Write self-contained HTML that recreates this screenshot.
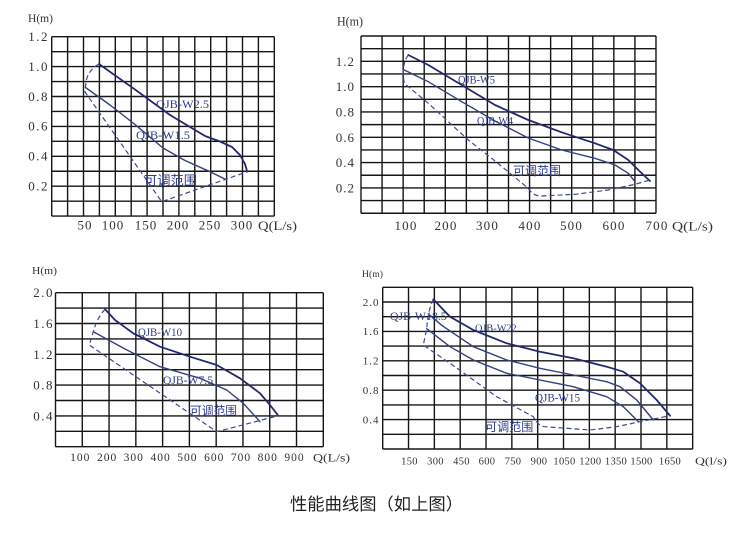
<!DOCTYPE html>
<html><head><meta charset="utf-8"><style>
html,body{margin:0;padding:0;background:#fff;}
svg{display:block;}
.g{stroke:#161616;stroke-width:1.4;fill:none;}
.t{font-family:"Liberation Serif","DejaVu Serif",serif;fill:#333;}
.c1{stroke:#23286e;stroke-width:1.8;fill:none;stroke-linejoin:round;stroke-linecap:round;}
.c2{stroke:#33407f;stroke-width:1.4;fill:none;stroke-linejoin:round;stroke-linecap:round;}
.d{stroke:#3d4b90;stroke-width:1.2;fill:none;stroke-dasharray:5 3;}
.l{font-family:"Liberation Serif",serif;fill:#2b3a8f;}
.k{font-family:"Liberation Sans","Noto Sans CJK SC",sans-serif;fill:#2b3a8f;}
</style></head><body>
<svg width="750" height="536" viewBox="0 0 750 536" xmlns="http://www.w3.org/2000/svg">
<rect width="750" height="536" fill="#fff"/>

<!-- Chart 1 -->
<path class="g" d="M51.7 36.7V216.1M67.6 36.7V216.1M83.5 36.7V216.1M99.4 36.7V216.1M115.3 36.7V216.1M131.2 36.7V216.1M147.1 36.7V216.1M163 36.7V216.1M178.9 36.7V216.1M194.8 36.7V216.1M210.7 36.7V216.1M226.6 36.7V216.1M242.5 36.7V216.1M258.4 36.7V216.1M274.3 36.7V216.1
M51.7 36.7H274.3M51.7 51.65H274.3M51.7 66.6H274.3M51.7 81.55H274.3M51.7 96.5H274.3M51.7 111.45H274.3M51.7 126.4H274.3M51.7 141.35H274.3M51.7 156.3H274.3M51.7 171.25H274.3M51.7 186.2H274.3M51.7 201.15H274.3M51.7 216.1H274.3"/>
<g class="t" font-size="13" letter-spacing="1.5" text-anchor="end">
<text x="49" y="41">1.2</text><text x="49" y="70.9">1.0</text><text x="49" y="100.8">0.8</text><text x="49" y="130.7">0.6</text><text x="49" y="160.6">0.4</text><text x="49" y="190.5">0.2</text>
</g>
<g class="t" font-size="13" letter-spacing="1" text-anchor="middle">
<text x="85" y="229.5">50</text><text x="113" y="229.5">100</text><text x="146" y="229.5">150</text><text x="178" y="229.5">200</text><text x="210" y="229.5">250</text><text x="242" y="229.5">300</text>
</g>
<text class="t" font-size="12.5" x="258" y="230" textLength="39" lengthAdjust="spacingAndGlyphs">Q(L/s)</text>
<text class="t" font-size="12" x="28" y="22" textLength="25" lengthAdjust="spacingAndGlyphs">H(m)</text>
<path class="c1" d="M99,64 L135,89.5 L170,115 L205,136 L220,141.5 L232,147 L240,155 L245,164 L247.3,171.7"/>
<path class="c2" d="M85.5,87.5 L110,105 L135,124.5 L163,148 L185,160.5 L210,171.7 L226,179.5"/>
<path class="d" d="M99,64 Q88,70 86,82 L85,92 L161.7,201.7 L247.3,171.7"/>
<text class="l" font-size="12" x="156" y="108" textLength="53" lengthAdjust="spacingAndGlyphs">QJB-W2.5</text>
<text class="l" font-size="12" x="136" y="139" textLength="54" lengthAdjust="spacingAndGlyphs">QJB-W1.5</text>
<text class="k" font-size="13" x="144" y="185" textLength="53" lengthAdjust="spacingAndGlyphs">可调范围</text>

<!-- Chart 2 -->
<path class="g" d="M361 36V213.24M382.07 36V213.24M403.14 36V213.24M424.21 36V213.24M445.28 36V213.24M466.35 36V213.24M487.42 36V213.24M508.49 36V213.24M529.56 36V213.24M550.63 36V213.24M571.7 36V213.24M592.77 36V213.24M613.84 36V213.24M634.91 36V213.24M655.98 36V213.24
M361 36H656M361 48.66H656M361 61.32H656M361 73.98H656M361 86.64H656M361 99.3H656M361 111.96H656M361 124.62H656M361 137.28H656M361 149.94H656M361 162.6H656M361 175.26H656M361 187.92H656M361 200.58H656M361 213.24H656"/>
<g class="t" font-size="13" letter-spacing="1" text-anchor="end">
<text x="355" y="65.8">1.2</text><text x="355" y="91.1">1.0</text><text x="355" y="116.4">0.8</text><text x="355" y="141.8">0.6</text><text x="355" y="167.1">0.4</text><text x="355" y="192.4">0.2</text>
</g>
<g class="t" font-size="13" letter-spacing="1.2" text-anchor="middle">
<text x="406" y="230">100</text><text x="446" y="230">200</text><text x="487.5" y="230">300</text><text x="530" y="230">400</text><text x="571.5" y="230">500</text><text x="614" y="230">600</text><text x="657" y="230">700</text>
</g>
<text class="t" font-size="13" x="672" y="230.5" textLength="41" lengthAdjust="spacingAndGlyphs">Q(L/s)</text>
<text class="t" font-size="13" x="337" y="25.5" textLength="26" lengthAdjust="spacingAndGlyphs">H(m)</text>
<path class="c1" d="M408.3,55 L428.3,65 L461.7,85 L495,105 L528.3,120 L561.7,132.3 L595,143.3 L613.3,150 L628.3,160 L638.3,170 L650,181"/>
<path class="c2" d="M404.3,70 L428.3,81.7 L461.7,101.7 L495,121 L528.3,138 L561.7,150 L595,158.3 L615,165 L628.3,173.3 L635,181.7"/>
<path class="d" d="M408.3,55 Q403,62 403,75 L404.3,83.3 L428.3,103.3 L468.3,140 L495,161 L528.3,188.3 Q533,196 541,196 L575,194.3 L608.3,190 L635,184.3 L650,180"/>
<text class="l" font-size="11.5" x="458" y="83.5" textLength="37" lengthAdjust="spacingAndGlyphs">QJB-W5</text>
<text class="l" font-size="11.5" x="477" y="124.5" textLength="36" lengthAdjust="spacingAndGlyphs">QJB-W4</text>
<text class="k" font-size="12" x="513" y="175" textLength="48" lengthAdjust="spacingAndGlyphs">可调范围</text>

<!-- Chart 3 -->
<path class="g" d="M55.5 292.7V446.7M82.28 292.7V446.7M109.06 292.7V446.7M135.84 292.7V446.7M162.62 292.7V446.7M189.4 292.7V446.7M216.18 292.7V446.7M242.96 292.7V446.7M269.74 292.7V446.7M296.52 292.7V446.7M323.3 292.7V446.7
M55.5 292.7H323.3M55.5 308.1H323.3M55.5 323.5H323.3M55.5 338.9H323.3M55.5 354.3H323.3M55.5 369.7H323.3M55.5 385.1H323.3M55.5 400.5H323.3M55.5 415.9H323.3M55.5 431.3H323.3M55.5 446.7H323.3"/>
<g class="t" font-size="13" letter-spacing="1.5" text-anchor="end">
<text x="54" y="297.2">2.0</text><text x="54" y="328">1.6</text><text x="54" y="358.8">1.2</text><text x="54" y="389.6">0.8</text><text x="54" y="420.4">0.4</text>
</g>
<g class="t" font-size="11.5" letter-spacing="1" text-anchor="middle">
<text x="80.3" y="461">100</text><text x="107.1" y="461">200</text><text x="133.8" y="461">300</text><text x="160.6" y="461">400</text><text x="187.4" y="461">500</text><text x="214.2" y="461">600</text><text x="241" y="461">700</text><text x="267.7" y="461">800</text><text x="294.5" y="461">900</text>
</g>
<text class="t" font-size="11.5" x="313" y="461.5" textLength="37" lengthAdjust="spacingAndGlyphs">Q(L/s)</text>
<text class="t" font-size="11" x="32" y="274" textLength="25" lengthAdjust="spacingAndGlyphs">H(m)</text>
<path class="c1" d="M105,309.3 L115,320 L133.3,333.3 L160,346.7 L190,356.7 L216.7,365 L240,378.3 L260,393.3 L270,405 L278.3,415.7"/>
<path class="c2" d="M93.3,331.7 L125,349 L160,366.7 L200,378.3 L226.7,390 L243.3,403.3 L253,414 L260,421.7"/>
<path class="d" d="M105,309.3 Q97,318 93.3,331.7 L89.3,345 L216.7,431.7 L278.3,415.7"/>
<text class="l" font-size="11.5" x="138" y="336" textLength="44" lengthAdjust="spacingAndGlyphs">QJB-W10</text>
<text class="l" font-size="11.5" x="163" y="384" textLength="50" lengthAdjust="spacingAndGlyphs">QJB-W7.5</text>
<text class="k" font-size="12" x="190" y="415" textLength="47" lengthAdjust="spacingAndGlyphs">可调范围</text>

<!-- Chart 4 -->
<path class="g" d="M382.7 287.3V449M408.53 287.3V449M434.36 287.3V449M460.19 287.3V449M486.02 287.3V449M511.85 287.3V449M537.68 287.3V449M563.51 287.3V449M589.34 287.3V449M615.17 287.3V449M641 287.3V449M666.83 287.3V449M692.66 287.3V449
M382.7 287.3H692.7M382.7 302H692.7M382.7 316.7H692.7M382.7 331.4H692.7M382.7 346.1H692.7M382.7 360.8H692.7M382.7 375.5H692.7M382.7 390.2H692.7M382.7 404.9H692.7M382.7 419.6H692.7M382.7 434.3H692.7M382.7 449H692.7"/>
<g class="t" font-size="11" letter-spacing="1" text-anchor="end">
<text x="379.5" y="305.8">2.0</text><text x="379.5" y="335.2">1.6</text><text x="379.5" y="364.6">1.2</text><text x="379.5" y="394">0.8</text><text x="379.5" y="423.4">0.4</text>
</g>
<g class="t" font-size="10.5" letter-spacing="0.3" text-anchor="middle">
<text x="409.5" y="464.5">150</text><text x="435.5" y="464.5">300</text><text x="461.5" y="464.5">450</text><text x="487" y="464.5">600</text><text x="513" y="464.5">750</text><text x="539" y="464.5">900</text><text x="564.5" y="464.5">1050</text><text x="590.3" y="464.5">1200</text><text x="616" y="464.5">1350</text><text x="641.5" y="464.5">1500</text><text x="670" y="464.5">1650</text>
</g>
<text class="t" font-size="10.5" x="695" y="464.5" textLength="32" lengthAdjust="spacingAndGlyphs">Q(l/s)</text>
<text class="t" font-size="9" x="362" y="277" textLength="21" lengthAdjust="spacingAndGlyphs">H(m)</text>
<path class="c1" d="M433.3,299.3 L450,316.7 L473.3,330 L506.7,343.3 L540,351.7 L573.3,358.3 L606.7,366.7 L623.3,371.7 L640,383.3 L656.7,400 L670,415.7"/>
<path class="c2" d="M430,315.3 L441.7,325.3 L473.3,346.7 L506.7,360 L540,368.3 L573.3,375 L606.7,381.7 L620,386.7 L636.7,400 L653.3,420"/>
<path class="c2" d="M426.7,328.7 L450,346.7 L473.3,360 L506.7,373.3 L540,380 L573.3,386.7 L606.7,396.7 L623.3,406.7 L638.3,421.7"/>
<path class="d" d="M433.3,299.3 Q428,310 426.7,328.7 L423.3,345 L456.7,368 L496.7,396.7 L533.3,416.7 Q538,426 545,426.7 L590,430 L616.7,426.7 L640,421.7 L670,415.7"/>
<text class="l" font-size="11.5" x="390" y="320" textLength="56.7" lengthAdjust="spacingAndGlyphs">QJB-W18.5</text>
<text class="l" font-size="11" x="475" y="331.5" textLength="41.7" lengthAdjust="spacingAndGlyphs">QJB-W22</text>
<text class="l" font-size="11.5" x="535" y="401.5" textLength="45" lengthAdjust="spacingAndGlyphs">QJB-W15</text>
<text class="k" font-size="12" x="485" y="431" textLength="48.3" lengthAdjust="spacingAndGlyphs">可调范围</text>

<!-- Caption -->
<text x="290" y="510" font-size="17" fill="#222" font-family="'Liberation Sans','Noto Sans CJK SC',sans-serif" textLength="173" lengthAdjust="spacingAndGlyphs">性能曲线图（如上图）</text>
</svg>
</body></html>
